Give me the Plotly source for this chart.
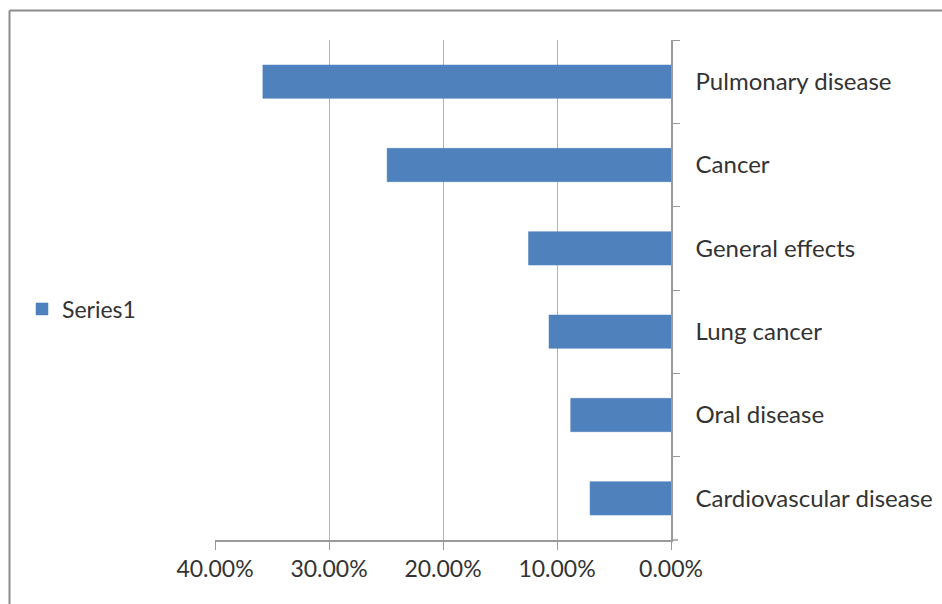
import plotly.graph_objects as go

categories = ["Pulmonary disease", "Cancer", "General effects", "Lung cancer",
              "Oral disease", "Cardiovascular disease"]
values = [0.358, 0.249, 0.125, 0.107, 0.088, 0.071]
series_name = "Series1"

W, H = 942, 604
# plot area in page pixels: x 215..671, y 40..540
L, R, T, B = 215, W - 671, 40, H - 540
pw, ph = W - L - R, H - T - B

def px2x(p):
    return (p - L) / pw

def px2y(p):
    return (H - B - p) / ph

font = dict(family="Lato, 'Open Sans', sans-serif", size=24, color="#333333")

fig = go.Figure()
fig.add_trace(go.Bar(
    x=values, y=categories, orientation="h", name=series_name,
    marker=dict(color="#4F81BD", line=dict(color="#4A7EBB", width=0.5)),
    showlegend=True,
))

fig.update_layout(
    width=W, height=H,
    margin=dict(l=L, r=R, t=T, b=B, autoexpand=False),
    paper_bgcolor="white", plot_bgcolor="white",
    font=font,
    bargap=0.6,
    showlegend=True,
    legend=dict(x=px2x(22), y=px2y(309), xanchor="left", yanchor="middle",
                font=dict(font, size=23), bgcolor="rgba(0,0,0,0)"),
    xaxis=dict(
        range=[0.4, 0], tickformat=".2%", dtick=0.1, tick0=0,
        showgrid=True, gridcolor="#B3B3B3", gridwidth=1,
        showline=True, linecolor="#9A9A9A", linewidth=1.5,
        ticks="outside", ticklen=8, tickcolor="#9A9A9A",
        tickfont=dict(font, size=23), automargin=False,
        zeroline=False, fixedrange=True,
    ),
    yaxis=dict(
        side="right", autorange="reversed", type="category",
        showgrid=False, showline=True, linecolor="#9A9A9A", linewidth=1.5,
        ticks="outside", ticklen=7, tickcolor="#9A9A9A", tickson="boundaries",
        ticklabelstandoff=18, zeroline=False, automargin=False,
    ),
    shapes=[
        dict(type="line", xref="paper", yref="paper",
             x0=px2x(9.5), x1=px2x(W + 10), y0=px2y(10.5), y1=px2y(10.5),
             line=dict(color="#8C8C8C", width=2)),
        dict(type="line", xref="paper", yref="paper",
             x0=px2x(9.5), x1=px2x(9.5), y0=px2y(10.5), y1=px2y(H + 10),
             line=dict(color="#8C8C8C", width=2)),
        dict(type="line", xref="paper", yref="paper",
             x0=px2x(671), x1=px2x(678), y0=0, y1=0,
             line=dict(color="#9A9A9A", width=1.5)),
    ],
)

fig.write_html(
    "out.html",
    config={"displayModeBar": False},
    post_script="document.body.style.margin='0';document.body.style.overflow='hidden';",
)
